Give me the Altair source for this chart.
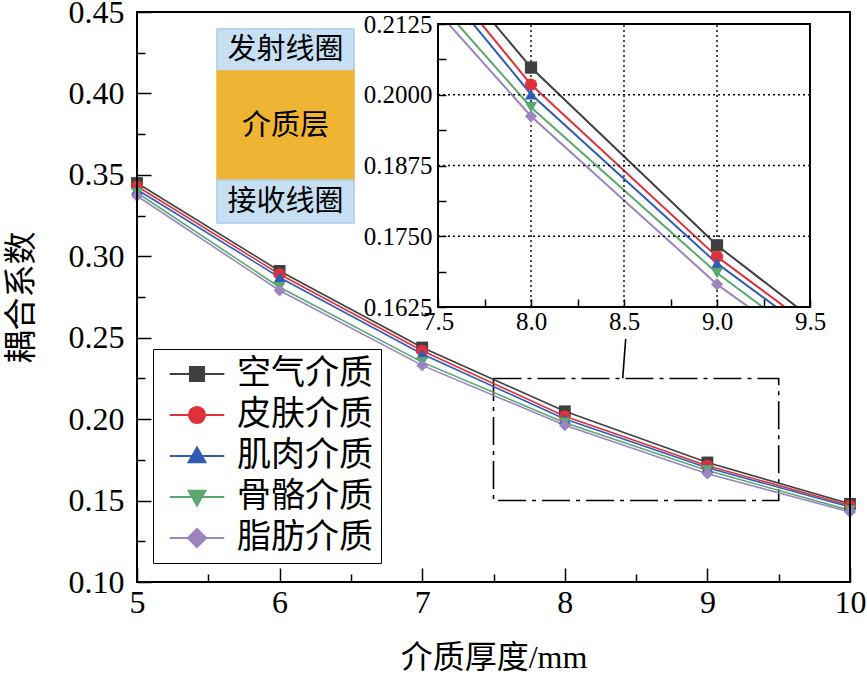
import altair as alt
import pandas as pd

# Coupling coefficient vs. dielectric thickness for five media
thickness = [5, 6, 7, 8, 9, 10]
media = ["空气介质", "皮肤介质", "肌肉介质", "骨骼介质", "脂肪介质"]
air = [0.345, 0.291, 0.244, 0.2048, 0.1734, 0.148]
skin = [0.343, 0.289, 0.242, 0.2018, 0.1714, 0.147]
muscle = [0.341, 0.287, 0.240, 0.2001, 0.1702, 0.146]
bone = [0.339, 0.281, 0.235, 0.1978, 0.1685, 0.144]
fat = [0.337, 0.279, 0.233, 0.1962, 0.1665, 0.143]

colors = ["#404040", "#e0303a", "#2f5db5", "#5aa86e", "#9b84c0"]
shapes = ["square", "circle", "triangle-up", "triangle-down", "diamond"]

# legend glyphs: a short line with the marker in the middle
seg = "M-3.9,0H3.9"
legend_shapes = [
    seg + "M-1,-1H1V1H-1Z",
    seg + "M-1.15,0A1.15,1.15,0,1,1,1.15,0A1.15,1.15,0,1,1,-1.15,0Z",
    seg + "M0,-1.2L1.2,0.9H-1.2Z",
    seg + "M0,1.2L1.2,-0.9H-1.2Z",
    seg + "M0,-1.3L1.3,0L0,1.3L-1.3,0Z",
]

# main axis ticks
x_major = [5, 6, 7, 8, 9, 10]
x_minor = [5.5, 6.5, 7.5, 8.5, 9.5]
y_major = [0.10, 0.15, 0.20, 0.25, 0.30, 0.35, 0.40, 0.45]
y_minor = [0.125, 0.175, 0.225, 0.275, 0.325, 0.375, 0.425]

# zoomed-in inset
inset_x_ticks = [7.5, 7.75, 8.0, 8.25, 8.5, 8.75, 9.0, 9.25, 9.5]
inset_y_ticks = [0.1625, 0.16875, 0.175, 0.18125, 0.1875, 0.19375, 0.2, 0.20625, 0.2125]
inset_grid_x = [8.0, 8.5, 9.0]
inset_grid_y = [0.175, 0.1875, 0.2]
inset_x_dom = [7.5, 9.5]
inset_y_dom = [0.1625, 0.2125]
inset_points = [8, 9]

# masks that trim the inset curves at its frame (inset units)
mask_x0 = [7.0, 9.0]
mask_x1 = [9.5, 10.5]
mask_y0 = [0.2125, 0.1625]
mask_y1 = [0.26, 0.140]

# region of the main plot shown in the inset, and its leader line
zoom_x = [7.5, 9.5]
zoom_y = [0.15, 0.225]
lead_x = [8.406, 8.427]
lead_y = [0.225, 0.2492]

# layer schematic
band_x = [5.561, 6.522]
band_top = [0.4396, 0.4138, 0.3468]
band_bottom = [0.4138, 0.3468, 0.3204]
band_text = ["发射线圈", "介质层", "接收线圈"]
band_fill = ["#c6dff3", "#f0b434", "#c6dff3"]
band_edge = ["#a9cbea", "#f0b434", "#a9cbea"]

frame_x = [5, 10]
frame_y = [0.10, 0.45]

W, H = 713, 570
LATIN = "Liberation Serif, Noto Sans CJK SC"
CJK = "Liberation Serif, Noto Sans CJK SC"

rows = []
for name, vals in zip(media, [air, skin, muscle, bone, fat]):
    for t, v in zip(thickness, vals):
        rows.append({"thickness": t, "value": v, "medium": name})
df = pd.DataFrame(rows)

main_x = alt.Scale(domain=[5, 10], nice=False)
main_y = alt.Scale(domain=[0.10, 0.45], nice=False, zero=False)
inset_x = alt.Scale(domain=inset_x_dom, nice=False, range=[301, 673])
inset_y = alt.Scale(domain=inset_y_dom, nice=False, zero=False, range=[295, 12])
col_scale = alt.Scale(domain=media, range=colors)
shape_scale = alt.Scale(domain=media, range=shapes)

axis_common = dict(domain=False, grid=False, zindex=1, tickColor="black", tickWidth=1.5,
                   labelFont=LATIN, labelColor="black", labelFlush=False)

main_x_axis = alt.Axis(values=x_major, format="d", orient="bottom", offset=-14, tickSize=14,
                       labelPadding=5, labelFontSize=32, title="介质厚度/mm", titleFont=CJK,
                       titleFontSize=32, titleFontWeight="normal", titleColor="black",
                       titlePadding=24, **axis_common)
main_y_axis = alt.Axis(values=y_major, format=".2f", orient="left", offset=-14, tickSize=14,
                       labelPadding=13, labelFontSize=32, title="耦合系数", titleFont=CJK,
                       titleFontSize=33, titleFontWeight="normal", titleColor="black",
                       titlePadding=30, **axis_common)
minor_x_axis = alt.Axis(values=x_minor, orient="bottom", offset=-8, tickSize=8, labels=False,
                        title=None, **axis_common)
minor_y_axis = alt.Axis(values=y_minor, orient="left", offset=-8, tickSize=8, labels=False,
                        title=None, **axis_common)
inset_x_axis = alt.Axis(values=inset_x_ticks, orient="bottom", offset=-283, tickSize=8,
                        labelPadding=2, labelFontSize=25, title=None,
                        labelExpr="round(datum.value*4) % 2 == 0 ? format(datum.value, '.1f') : ''",
                        **axis_common)
inset_y_axis = alt.Axis(values=inset_y_ticks, orient="left", offset=-309, tickSize=8,
                        labelPadding=6, labelFontSize=25, title=None,
                        labelExpr="round(datum.value*1600) % 20 == 0 ? format(datum.value, '.4f') : ''",
                        **axis_common)

def mx(axis=None):
    return alt.X("thickness:Q", scale=main_x, axis=axis)

def my(axis=None):
    return alt.Y("value:Q", scale=main_y, axis=axis)

base = alt.Chart(df)

# inset curves, trimmed by white masks drawn right after them
inset_lines = base.mark_line(strokeWidth=2, clip=True).encode(
    x=alt.X("thickness:Q", scale=inset_x, axis=None),
    y=alt.Y("value:Q", scale=inset_y, axis=None),
    color=alt.Color("medium:N", scale=col_scale, legend=None),
    order=alt.Order("thickness:Q"),
)
mask_df = pd.DataFrame({"x0": mask_x0, "x1": mask_x1, "y0": mask_y0, "y1": mask_y1})
masks = alt.Chart(mask_df).mark_rect(fill="white", clip=True).encode(
    x=alt.X("x0:Q", scale=inset_x, axis=None), x2="x1:Q",
    y=alt.Y("y0:Q", scale=inset_y, axis=None), y2="y1:Q",
)

# layer schematic
band_df = pd.DataFrame({"x0": [band_x[0]] * 3, "x1": [band_x[1]] * 3, "top": band_top,
                        "bottom": band_bottom, "label": band_text, "fill": band_fill,
                        "edge": band_edge})
band_df["xc"] = (band_df["x0"] + band_df["x1"]) / 2
band_df["yc"] = (band_df["top"] + band_df["bottom"]) / 2
bands = alt.Chart(band_df).mark_rect(strokeWidth=1.5).encode(
    x=alt.X("x0:Q", scale=main_x, axis=None), x2="x1:Q",
    y=alt.Y("top:Q", scale=main_y, axis=None), y2="bottom:Q",
    fill=alt.Fill("fill:N", scale=None), stroke=alt.Stroke("edge:N", scale=None),
)
band_labels = alt.Chart(band_df).mark_text(font=CJK, fontSize=29, color="black",
                                           baseline="middle", align="center").encode(
    x=alt.X("xc:Q", scale=main_x, axis=None),
    y=alt.Y("yc:Q", scale=main_y, axis=None),
    text="label:N",
)

# main curves and markers
main_lines = base.mark_line(strokeWidth=1.6).encode(
    x=mx(main_x_axis), y=my(main_y_axis),
    color=alt.Color("medium:N", scale=col_scale, legend=None),
    order=alt.Order("thickness:Q"),
)
main_points = base.mark_point(filled=True, size=140, opacity=1).encode(
    x=mx(), y=my(),
    color=alt.Color("medium:N", scale=col_scale, legend=None),
    shape=alt.Shape("medium:N", scale=shape_scale, legend=None),
)

# dash-dot box and leader line
zoom_df = pd.DataFrame({"x0": [zoom_x[0]], "x1": [zoom_x[1]], "y0": [zoom_y[0]], "y1": [zoom_y[1]]})
zoom_box = alt.Chart(zoom_df).mark_rect(fillOpacity=0, stroke="black", strokeWidth=1.6,
                                        strokeDash=[28, 6, 4, 6]).encode(
    x=alt.X("x0:Q", scale=main_x, axis=None), x2="x1:Q",
    y=alt.Y("y0:Q", scale=main_y, axis=None), y2="y1:Q",
)
lead_df = pd.DataFrame({"x": lead_x, "y": lead_y})
lead = alt.Chart(lead_df).mark_line(color="black", strokeWidth=1.6).encode(
    x=alt.X("x:Q", scale=main_x, axis=None),
    y=alt.Y("y:Q", scale=main_y, axis=None),
)

# outer frame carrying the minor ticks
frame_df = pd.DataFrame({"x0": [frame_x[0]], "x1": [frame_x[1]], "y0": [frame_y[0]], "y1": [frame_y[1]]})
frame = alt.Chart(frame_df).mark_rect(fillOpacity=0, stroke="black", strokeWidth=2).encode(
    x=alt.X("x0:Q", scale=main_x, axis=minor_x_axis), x2="x1:Q",
    y=alt.Y("y0:Q", scale=main_y, axis=minor_y_axis), y2="y1:Q",
)

# inset grid, frame, markers
gx_df = pd.DataFrame({"x": inset_grid_x, "y0": [inset_y_dom[0]] * 3, "y1": [inset_y_dom[1]] * 3})
grid_v = alt.Chart(gx_df).mark_rule(color="black", strokeWidth=1.4, strokeDash=[2, 3]).encode(
    x=alt.X("x:Q", scale=inset_x, axis=None),
    y=alt.Y("y0:Q", scale=inset_y, axis=None), y2="y1:Q",
)
gy_df = pd.DataFrame({"y": inset_grid_y, "x0": [inset_x_dom[0]] * 3, "x1": [inset_x_dom[1]] * 3})
grid_h = alt.Chart(gy_df).mark_rule(color="black", strokeWidth=1.4, strokeDash=[2, 3]).encode(
    y=alt.Y("y:Q", scale=inset_y, axis=None),
    x=alt.X("x0:Q", scale=inset_x, axis=None), x2="x1:Q",
)
inset_frame_df = pd.DataFrame({"x0": [inset_x_dom[0]], "x1": [inset_x_dom[1]],
                               "y0": [inset_y_dom[0]], "y1": [inset_y_dom[1]]})
inset_frame = alt.Chart(inset_frame_df).mark_rect(fillOpacity=0, stroke="black", strokeWidth=2).encode(
    x=alt.X("x0:Q", scale=inset_x, axis=inset_x_axis), x2="x1:Q",
    y=alt.Y("y0:Q", scale=inset_y, axis=inset_y_axis), y2="y1:Q",
)
inset_marks = base.transform_filter(
    alt.FieldOneOfPredicate(field="thickness", oneOf=inset_points)
).mark_point(filled=True, size=150, opacity=1).encode(
    x=alt.X("thickness:Q", scale=inset_x, axis=None),
    y=alt.Y("value:Q", scale=inset_y, axis=None),
    color=alt.Color("medium:N", scale=col_scale, legend=None),
    shape=alt.Shape("medium:N", scale=shape_scale, legend=None),
)

# legend
leg = alt.Legend(orient="none", legendX=16, legendY=337, title=None, fillColor="white",
                 strokeColor="black", padding=8, labelFont=CJK, labelFontSize=34,
                 labelColor="black", labelOffset=23, symbolOffset=19, rowPadding=7,
                 symbolSize=196, symbolStrokeWidth=2, labelLimit=0)
legend_layer = base.transform_filter("false").mark_point(filled=True, size=196, opacity=1).encode(
    x=mx(), y=my(),
    fill=alt.Fill("medium:N", scale=col_scale, legend=leg),
    stroke=alt.Stroke("medium:N", scale=col_scale, legend=leg),
    shape=alt.Shape("medium:N", scale=alt.Scale(domain=media, range=legend_shapes), legend=leg),
)

chart = alt.layer(
    inset_lines, masks, bands, band_labels, zoom_box, lead, main_lines, main_points,
    frame, grid_v, grid_h, inset_marks, inset_frame, legend_layer,
).resolve_scale(
    x="independent", y="independent", color="independent", shape="independent",
    fill="independent", stroke="independent",
).properties(
    width=W, height=H,
    autosize=alt.AutoSizeParams(type="none"),
    padding={"left": 137, "top": 12, "right": 17, "bottom": 94},
    background="white",
).configure_view(stroke=None)

chart.save("out.html", embed_options={"renderer": "svg", "actions": False})
